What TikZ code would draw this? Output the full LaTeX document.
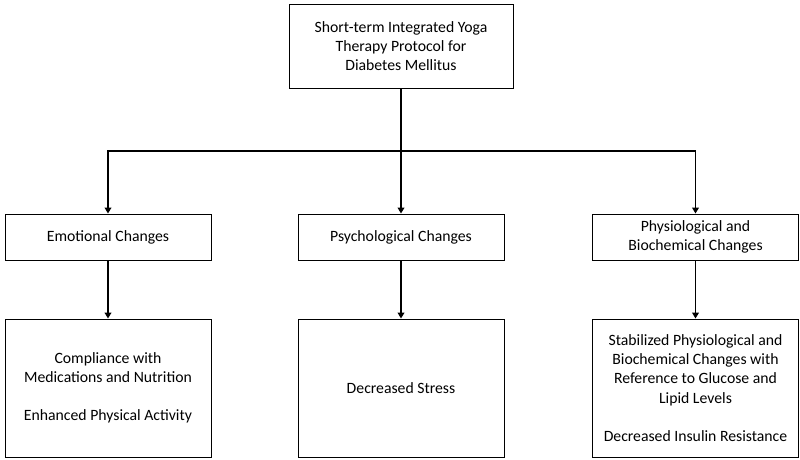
\documentclass[tikz,border=0pt]{standalone}
\usepackage{fontspec}
\setmainfont{Carlito}
\usetikzlibrary{arrows.meta,positioning,calc}

\begin{document}
\begin{tikzpicture}[x=0.75pt,y=-0.75pt,
  box/.style={draw,line width=0.65pt,align=center,font=\fontsize{11.8}{14.4}\selectfont,inner sep=2pt},
  link/.style={-{Triangle[length=4.5pt,width=5pt]},line width=1.4pt}]
\useasboundingbox (0,0) rectangle (800,460);
\node[box,minimum width=168pt,minimum height=63pt] (top) at (401,46) {Short-term Integrated Yoga\\Therapy Protocol for\\Diabetes Mellitus};
\foreach \i/\x/\w in {0/108/Emotional Changes,1/401/Psychological Changes,2/695.5/{Physiological and\\Biochemical Changes}}{
  \node[box,minimum width=154.5pt,minimum height=34.5pt] (mid\i) at (\x,237) {\w};
}
\node[box,minimum width=154.5pt,minimum height=103.5pt] (out0) at (108,388) {Compliance with\\Medications and Nutrition\\[14.4pt]Enhanced Physical Activity};
\node[box,minimum width=154.5pt,minimum height=103.5pt] (out1) at (401,388) {Decreased Stress};
\node[box,minimum width=154.5pt,minimum height=103.5pt] (out2) at (695.5,388) {Stabilized Physiological and\\Biochemical Changes with\\Reference to Glucose and\\Lipid Levels\\[14.4pt]Decreased Insulin Resistance};
\coordinate (bus) at (top.south |- 0,151);
\draw[line width=1.4pt] (top.south) -- (bus);
\draw[link] (bus) -| (mid0.north);
\draw[link] (top.south) -- (mid1.north);
\draw[link] (bus) -| (mid2.north);
\foreach \i in {0,1,2}{\draw[link] (mid\i) -- (out\i);}
\end{tikzpicture}
\end{document}
